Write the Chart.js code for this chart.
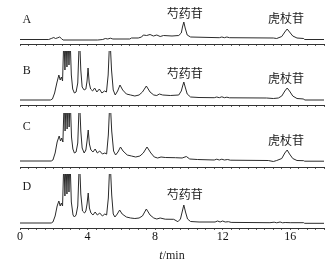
<!DOCTYPE html>
<html><head><meta charset="utf-8">
<script src="https://cdn.jsdelivr.net/npm/chart.js@4/dist/chart.umd.min.js"></script>
<style>
html,body{margin:0;padding:0;background:#fff;width:332px;height:270px;overflow:hidden;position:relative}
canvas{position:absolute;left:0;display:block}
</style></head><body>
<canvas id="cA" width="332" height="56" style="top:-10px;width:332px;height:56px"></canvas>
<canvas id="cB" width="332" height="56" style="top:51px;width:332px;height:56px"></canvas>
<canvas id="cC" width="332" height="56" style="top:113px;width:332px;height:56px"></canvas>
<canvas id="cD" width="332" height="96" style="top:174px;width:332px;height:96px"></canvas>
<script>
// ---- data (time in min, detector response) ----
const tickValues = [0, 4, 8, 12, 16];
const panelNames = ['A', 'B', 'C', 'D'];
const peakNames = ['芍药苷', '虎杖苷'];

const timeA = [0,1.7,1.85,2.0,2.1,2.2,2.35,2.45,2.55,4.6,4.9,5.05,5.2,5.35,5.5,6.5,6.6,7.0,7.2,7.3,7.5,7.7,7.9,8.1,8.3,8.5,9.0,9.4,9.55,9.62,9.7,9.78,9.9,10.1,11.8,11.95,12.1,12.25,12.4,15.0,15.2,15.5,15.68,15.82,15.96,16.15,16.4,16.8,16.85,18];
const signalA = [4.5,4.5,5.5,6.5,5.5,6,7,5.5,4,4,4.5,5.5,5,5.8,5,5,6,6,7,9,8.5,9.5,8,9,7.5,8.5,8,8.5,11,17,22,16,9,7,6.3,7,6.3,7,6.3,6,5.5,7.5,12,15,12,8,6,5.5,4.5,4.5];

const timeB = [0,1.8,1.92,2.05,2.18,2.3,2.38,2.45,2.52,2.6,2.66,2.72,2.78,2.84,2.9,2.96,3.04,3.12,3.22,3.32,3.42,3.52,3.6,3.68,3.8,3.9,3.97,4.03,4.1,4.18,4.3,4.42,4.55,4.7,4.85,5.0,5.12,5.22,5.32,5.42,5.52,5.64,5.78,5.92,6.08,6.3,6.55,6.8,7.05,7.25,7.48,7.7,7.92,8.1,8.25,8.45,8.9,9.4,9.55,9.63,9.7,9.78,9.9,10.1,10.6,11.5,11.65,11.8,11.95,12.1,12.25,12.4,14.6,15.0,15.3,15.5,15.68,15.82,15.96,16.15,16.4,16.8,16.85,18];
const signalB = [5,5,6,12,22,30,25,28,24,70,35,70,38,70,40,70,30,16,12,13,22,70,35,18,15,16,24,37,22,16,14,17,13,16,12,14,13,30,70,35,15,10,14,20,15,11,10,9,10,13,19,13,10,9.5,11,10,9.5,10,14,19,23,18,11,8,7.5,7.3,8,7.3,8.2,7.3,7.8,7.2,7,6.5,7,9,14,17,14,9,6.5,6,5,5];

const timeC = [0,1.85,1.95,2.08,2.2,2.32,2.4,2.47,2.54,2.62,2.67,2.73,2.79,2.85,2.91,2.97,3.05,3.13,3.22,3.32,3.42,3.52,3.6,3.68,3.8,3.9,3.97,4.04,4.11,4.2,4.32,4.45,4.58,4.72,4.88,5.02,5.13,5.23,5.33,5.43,5.54,5.66,5.8,5.95,6.1,6.35,6.6,6.85,7.1,7.3,7.52,7.75,7.95,8.15,8.35,8.6,9.2,9.6,9.85,10.05,10.5,11.5,11.65,11.8,11.95,12.1,12.3,12.45,14.7,15.0,15.2,15.5,15.68,15.82,15.96,16.15,16.4,16.8,16.85,18];
const signalC = [6,6,7,14,25,31,26,29,25,70,36,70,38,70,40,70,30,18,14,15,24,70,36,19,14,17,26,37,23,17,15,18,14,16,13,14,13,32,70,36,16,12,15,20,16,12,11,10,11,14,20,14,10,9,10,9.5,9.3,9,10.5,8,7.5,7,7.8,7,7.8,7,7.5,6.8,6.5,5.5,6.5,8.5,14,17,13,8.5,6.5,6.3,5.8,5.8];

const timeD = [0,1.85,1.95,2.08,2.2,2.3,2.38,2.45,2.52,2.6,2.66,2.72,2.78,2.84,2.9,2.96,3.04,3.14,3.22,3.32,3.42,3.52,3.6,3.7,3.82,3.9,3.97,4.04,4.11,4.2,4.32,4.45,4.58,4.72,4.88,5.02,5.13,5.23,5.33,5.43,5.52,5.62,5.76,5.9,6.05,6.3,6.55,6.8,7.05,7.25,7.48,7.7,7.92,8.1,8.3,8.6,9.1,9.35,9.5,9.6,9.7,9.8,9.92,10.1,10.6,11.55,11.7,11.85,12.0,12.15,12.35,12.5,14.8,15.05,15.2,15.4,15.55,15.7,16.0,16.8,16.85,18];
const signalD = [5,5,6,12,22,27,22,25,22,70,32,70,34,70,36,70,26,13,11,13,22,70,34,17,15,17,24,35,20,15,13,16,13,15,12,14,13,30,70,33,14,11,14,18,14,11,10,9.5,10,12,19,13,10,9,10,8.8,8.7,6.3,9,16,23,16,9,6.5,6,6,7,6,7,6,6.3,5.6,5.3,5.8,5.2,6,5.2,5.5,5.3,5.3,4.7,4.7];

// ---- drawing ----
const serif = '"Liberation Serif", "DejaVu Serif", serif';
const cjk = '"Noto Sans CJK SC", sans-serif';
const letterFont = '12px ' + serif;
const cjkFont = '12px ' + cjk;

function toPoints(t, s) {
  const n = Math.min(t.length, s.length);
  const out = [];
  for (let i = 0; i < n; i++) out.push({x: t[i], y: s[i]});
  return out;
}

function textPlugin(items, withTitle) {
  return {
    id: 'panelText',
    afterDatasetsDraw(chart) {
      const ctx = chart.ctx, x = chart.scales.x, y = chart.scales.y;
      ctx.save();
      ctx.fillStyle = '#1a1a1a';
      ctx.textAlign = 'center';
      ctx.textBaseline = 'middle';
      items.forEach(it => {
        ctx.font = it.font;
        ctx.fillText(it.text, x.getPixelForValue(it.t), y.getPixelForValue(it.v));
      });
      if (withTitle) {
        const cx = (x.left + x.right) / 2;
        const cy = 82;
        ctx.font = 'italic 12px ' + serif;
        const w1 = ctx.measureText('t').width;
        ctx.font = '12px ' + serif;
        const w2 = ctx.measureText('/min').width;
        const sx = cx - (w1 + w2) / 2;
        ctx.textAlign = 'left';
        ctx.font = 'italic 12px ' + serif;
        ctx.fillText('t', sx, cy);
        ctx.font = '12px ' + serif;
        ctx.fillText('/min', sx + w1, cy);
      }
      ctx.restore();
    }
  };
}

function makePanel(id, t, s, items, showLabels) {
  new Chart(document.getElementById(id), {
    type: 'line',
    data: { datasets: [{ data: toPoints(t, s), borderColor: '#2b2b2b', borderWidth: 1, pointRadius: 0, tension: 0, fill: false }] },
    options: {
      responsive: false, animation: false, devicePixelRatio: 1, events: [],
      layout: { padding: { left: 20, right: 8, top: 0, bottom: showLabels ? 25.6 : 0 } },
      plugins: { legend: { display: false }, tooltip: { enabled: false }, title: { display: false } },
      scales: {
        x: {
          type: 'linear', min: 0, max: 18,
          border: { display: true, color: '#333', width: 1 },
          grid: { display: true, drawOnChartArea: false, drawTicks: true, tickLength: 2, tickColor: '#333', tickWidth: 0.8 },
          ticks: {
            display: showLabels, stepSize: 0.5, autoSkip: false, maxTicksLimit: 100, maxRotation: 0, padding: 0,
            color: '#111', font: { family: serif, size: 12 },
            callback: v => tickValues.includes(v) ? String(v) : ''
          }
        },
        y: { display: false, min: 0, max: 54 }
      }
    },
    plugins: [textPlugin(items, showLabels)]
  });
}

makePanel('cA', timeA, signalA, [
  {text: panelNames[0], t: 0.4, v: 24, font: letterFont},
  {text: peakNames[0], t: 9.75, v: 31, font: cjkFont},
  {text: peakNames[1], t: 15.75, v: 26, font: cjkFont}
], false);
makePanel('cB', timeB, signalB, [
  {text: panelNames[1], t: 0.4, v: 34, font: letterFont},
  {text: peakNames[0], t: 9.75, v: 32, font: cjkFont},
  {text: peakNames[1], t: 15.75, v: 27, font: cjkFont}
], false);
makePanel('cC', timeC, signalC, [
  {text: panelNames[2], t: 0.4, v: 40, font: letterFont},
  {text: peakNames[1], t: 15.75, v: 27, font: cjkFont}
], false);
makePanel('cD', timeD, signalD, [
  {text: panelNames[3], t: 0.4, v: 41, font: letterFont},
  {text: peakNames[0], t: 9.75, v: 34, font: cjkFont}
], true);
</script>
</body></html>
